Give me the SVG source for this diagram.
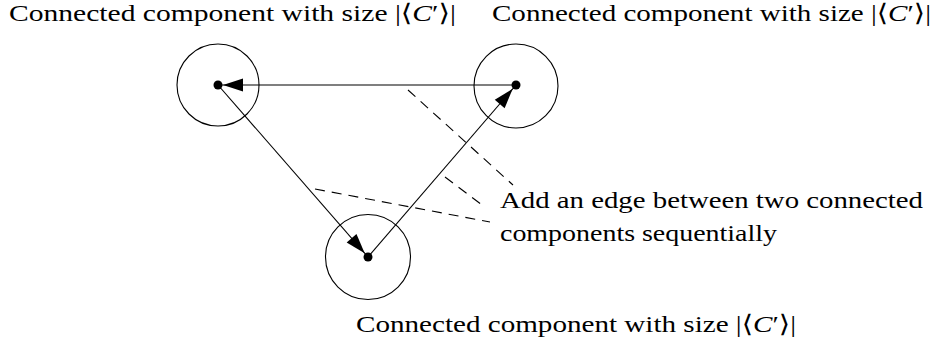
<svg xmlns="http://www.w3.org/2000/svg" width="935" height="347" viewBox="0 0 935 347">
<style>
text{font-family:"Liberation Serif","DejaVu Serif",serif;font-size:24px;fill:#000}
.ring{fill:none;stroke:#000;stroke-width:1.1}
.dot{fill:#000}
.edge{fill:none;stroke:#000;stroke-width:1.1}
.dash{fill:none;stroke:#000;stroke-width:1.1;stroke-dasharray:10 7}
</style>
<defs>
<marker id="ah" markerUnits="userSpaceOnUse" markerWidth="21" markerHeight="14" refX="25" refY="6.5" orient="auto" overflow="visible">
<path d="M0,0 L20,6.5 L0,13 z" fill="#000"/>
</marker>
</defs>
<rect width="935" height="347" fill="#fff"/>
<g id="c1">
<circle class="ring" cx="218" cy="85" r="41"/>
<circle class="dot" cx="218" cy="85" r="4.5"/>
<text x="9" y="21" textLength="447" lengthAdjust="spacingAndGlyphs">Connected component with size |⟨<tspan font-style="italic">C</tspan>′⟩|</text>
</g>
<g id="c2">
<circle class="ring" cx="516" cy="86" r="42"/>
<circle class="dot" cx="516" cy="85" r="4.5"/>
<text x="492" y="21" textLength="439" lengthAdjust="spacingAndGlyphs">Connected component with size |⟨<tspan font-style="italic">C</tspan>′⟩|</text>
</g>
<g id="c3">
<circle class="ring" cx="368" cy="257" r="42.5"/>
<circle class="dot" cx="368" cy="257" r="4.5"/>
<text x="356" y="332" textLength="440" lengthAdjust="spacingAndGlyphs">Connected component with size |⟨<tspan font-style="italic">C</tspan>′⟩|</text>
</g>
<g id="note">
<text x="500" y="208" textLength="423" lengthAdjust="spacingAndGlyphs">Add an edge between two connected</text>
<text x="500" y="241" textLength="277" lengthAdjust="spacingAndGlyphs">components sequentially</text>
</g>
<g id="connectors">
<line class="edge" x1="516" y1="85" x2="218" y2="85" marker-end="url(#ah)"/>
<line class="edge" x1="218" y1="85" x2="368" y2="257" marker-end="url(#ah)"/>
<line class="edge" x1="368" y1="257" x2="516" y2="85" marker-end="url(#ah)"/>
<line class="dash" x1="408" y1="90" x2="513" y2="185"/>
<line class="dash" x1="445" y1="177" x2="482" y2="205"/>
<line class="dash" x1="315" y1="189" x2="490" y2="222"/>
</g>
</svg>
